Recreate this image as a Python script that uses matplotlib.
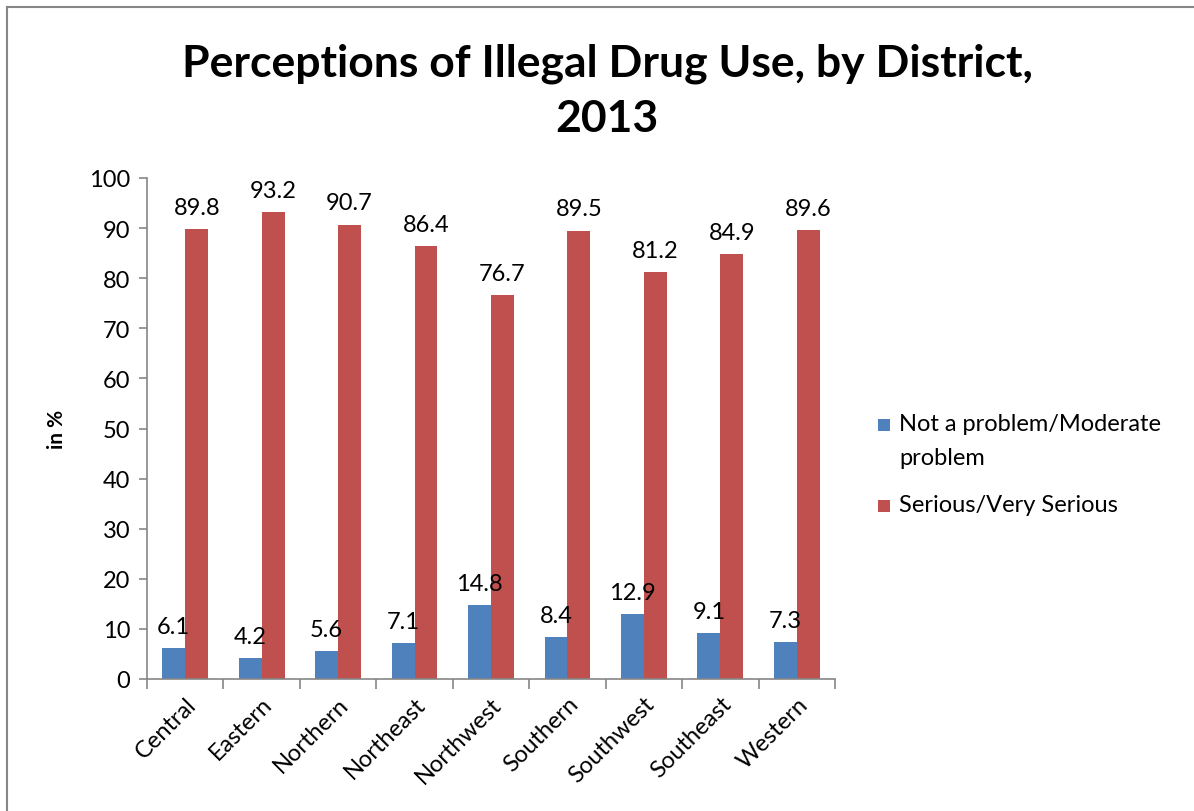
import matplotlib
matplotlib.use("Agg")
import matplotlib.pyplot as plt
import numpy as np
from matplotlib.patches import Rectangle
from matplotlib.lines import Line2D

plt.rcParams['font.family'] = ['Lato', 'DejaVu Sans']

districts = ["Central", "Eastern", "Northern", "Northeast", "Northwest",
             "Southern", "Southwest", "Southeast", "Western"]
not_problem = [6.1, 4.2, 5.6, 7.1, 14.8, 8.4, 12.9, 9.1, 7.3]
serious = [89.8, 93.2, 90.7, 86.4, 76.7, 89.5, 81.2, 84.9, 89.6]
series_names = ["Not a problem/Moderate\nproblem", "Serious/Very Serious"]
colors = ["#4F81BD", "#C0504D"]
yticks = list(range(0, 101, 10))

W, H = 1194, 812
fig = plt.figure(figsize=(W / 100, H / 100), dpi=100)
ax = fig.add_axes([147 / W, 1 - 680 / H, (835 - 147) / W, (680 - 179) / H])

x = np.arange(len(districts))
bw = 0.3
b1 = ax.bar(x - bw / 2, not_problem, bw, color=colors[0], label=series_names[0])
b2 = ax.bar(x + bw / 2, serious, bw, color=colors[1], label=series_names[1])

for bars, vals in ((b1, not_problem), (b2, serious)):
    for r, v in zip(bars, vals):
        ax.annotate(f"{v:.1f}", (r.get_x() + r.get_width() / 2, v),
                    xytext=(0, 8), textcoords="offset points",
                    ha="center", va="bottom", fontsize=17, color="black")

ax.set_xlim(-0.5, len(districts) - 0.5)
ax.set_ylim(0, 100)
ax.set_yticks(yticks)
ax.set_yticklabels([str(t) for t in yticks], fontsize=17)

ax.set_xticks(np.arange(len(districts) + 1) - 0.5)
ax.set_xticklabels([])
ax.set_xticks(x, minor=True)
ax.set_xticklabels(districts, minor=True, rotation=45, ha="right",
                   rotation_mode="anchor", fontsize=17)
ax.tick_params(axis="x", which="minor", length=0, pad=10)
ax.tick_params(axis="x", which="major", length=7, color="#868686", width=1.2)
ax.tick_params(axis="y", length=6, color="#868686", width=1.2, pad=6)

for s in ("top", "right"):
    ax.spines[s].set_visible(False)
for s in ("left", "bottom"):
    ax.spines[s].set_color("#868686")
    ax.spines[s].set_linewidth(1.2)

ax.set_ylabel("in %", fontsize=15, fontweight="bold", labelpad=16)

fig.text(607 / W, 1 - 91 / H, "Perceptions of Illegal Drug Use, by District,\n2013",
         ha="center", va="center", fontsize=32, fontweight="bold",
         linespacing=1.45)

# legend: square aligned with first line of each entry
legend_rows = [426, 507]
for name, c, yc in zip(series_names, colors, legend_rows):
    fig.add_artist(Rectangle((878 / W, 1 - (yc + 6) / H), 12 / W, 12 / H,
                             facecolor=c, edgecolor="none",
                             transform=fig.transFigure))
    fig.text(899 / W, 1 - (yc - 12) / H, name, ha="left", va="top",
             fontsize=17, linespacing=1.75)

# chart outer frame (top and left visible)
fig.add_artist(Line2D([7 / W, 1], [1 - 7.5 / H, 1 - 7.5 / H], color="#868686",
                      lw=1.5, transform=fig.transFigure))
fig.add_artist(Line2D([7 / W, 7 / W], [0, 1 - 7.5 / H], color="#868686",
                      lw=1.5, transform=fig.transFigure))

fig.savefig("out.png", dpi=100)
